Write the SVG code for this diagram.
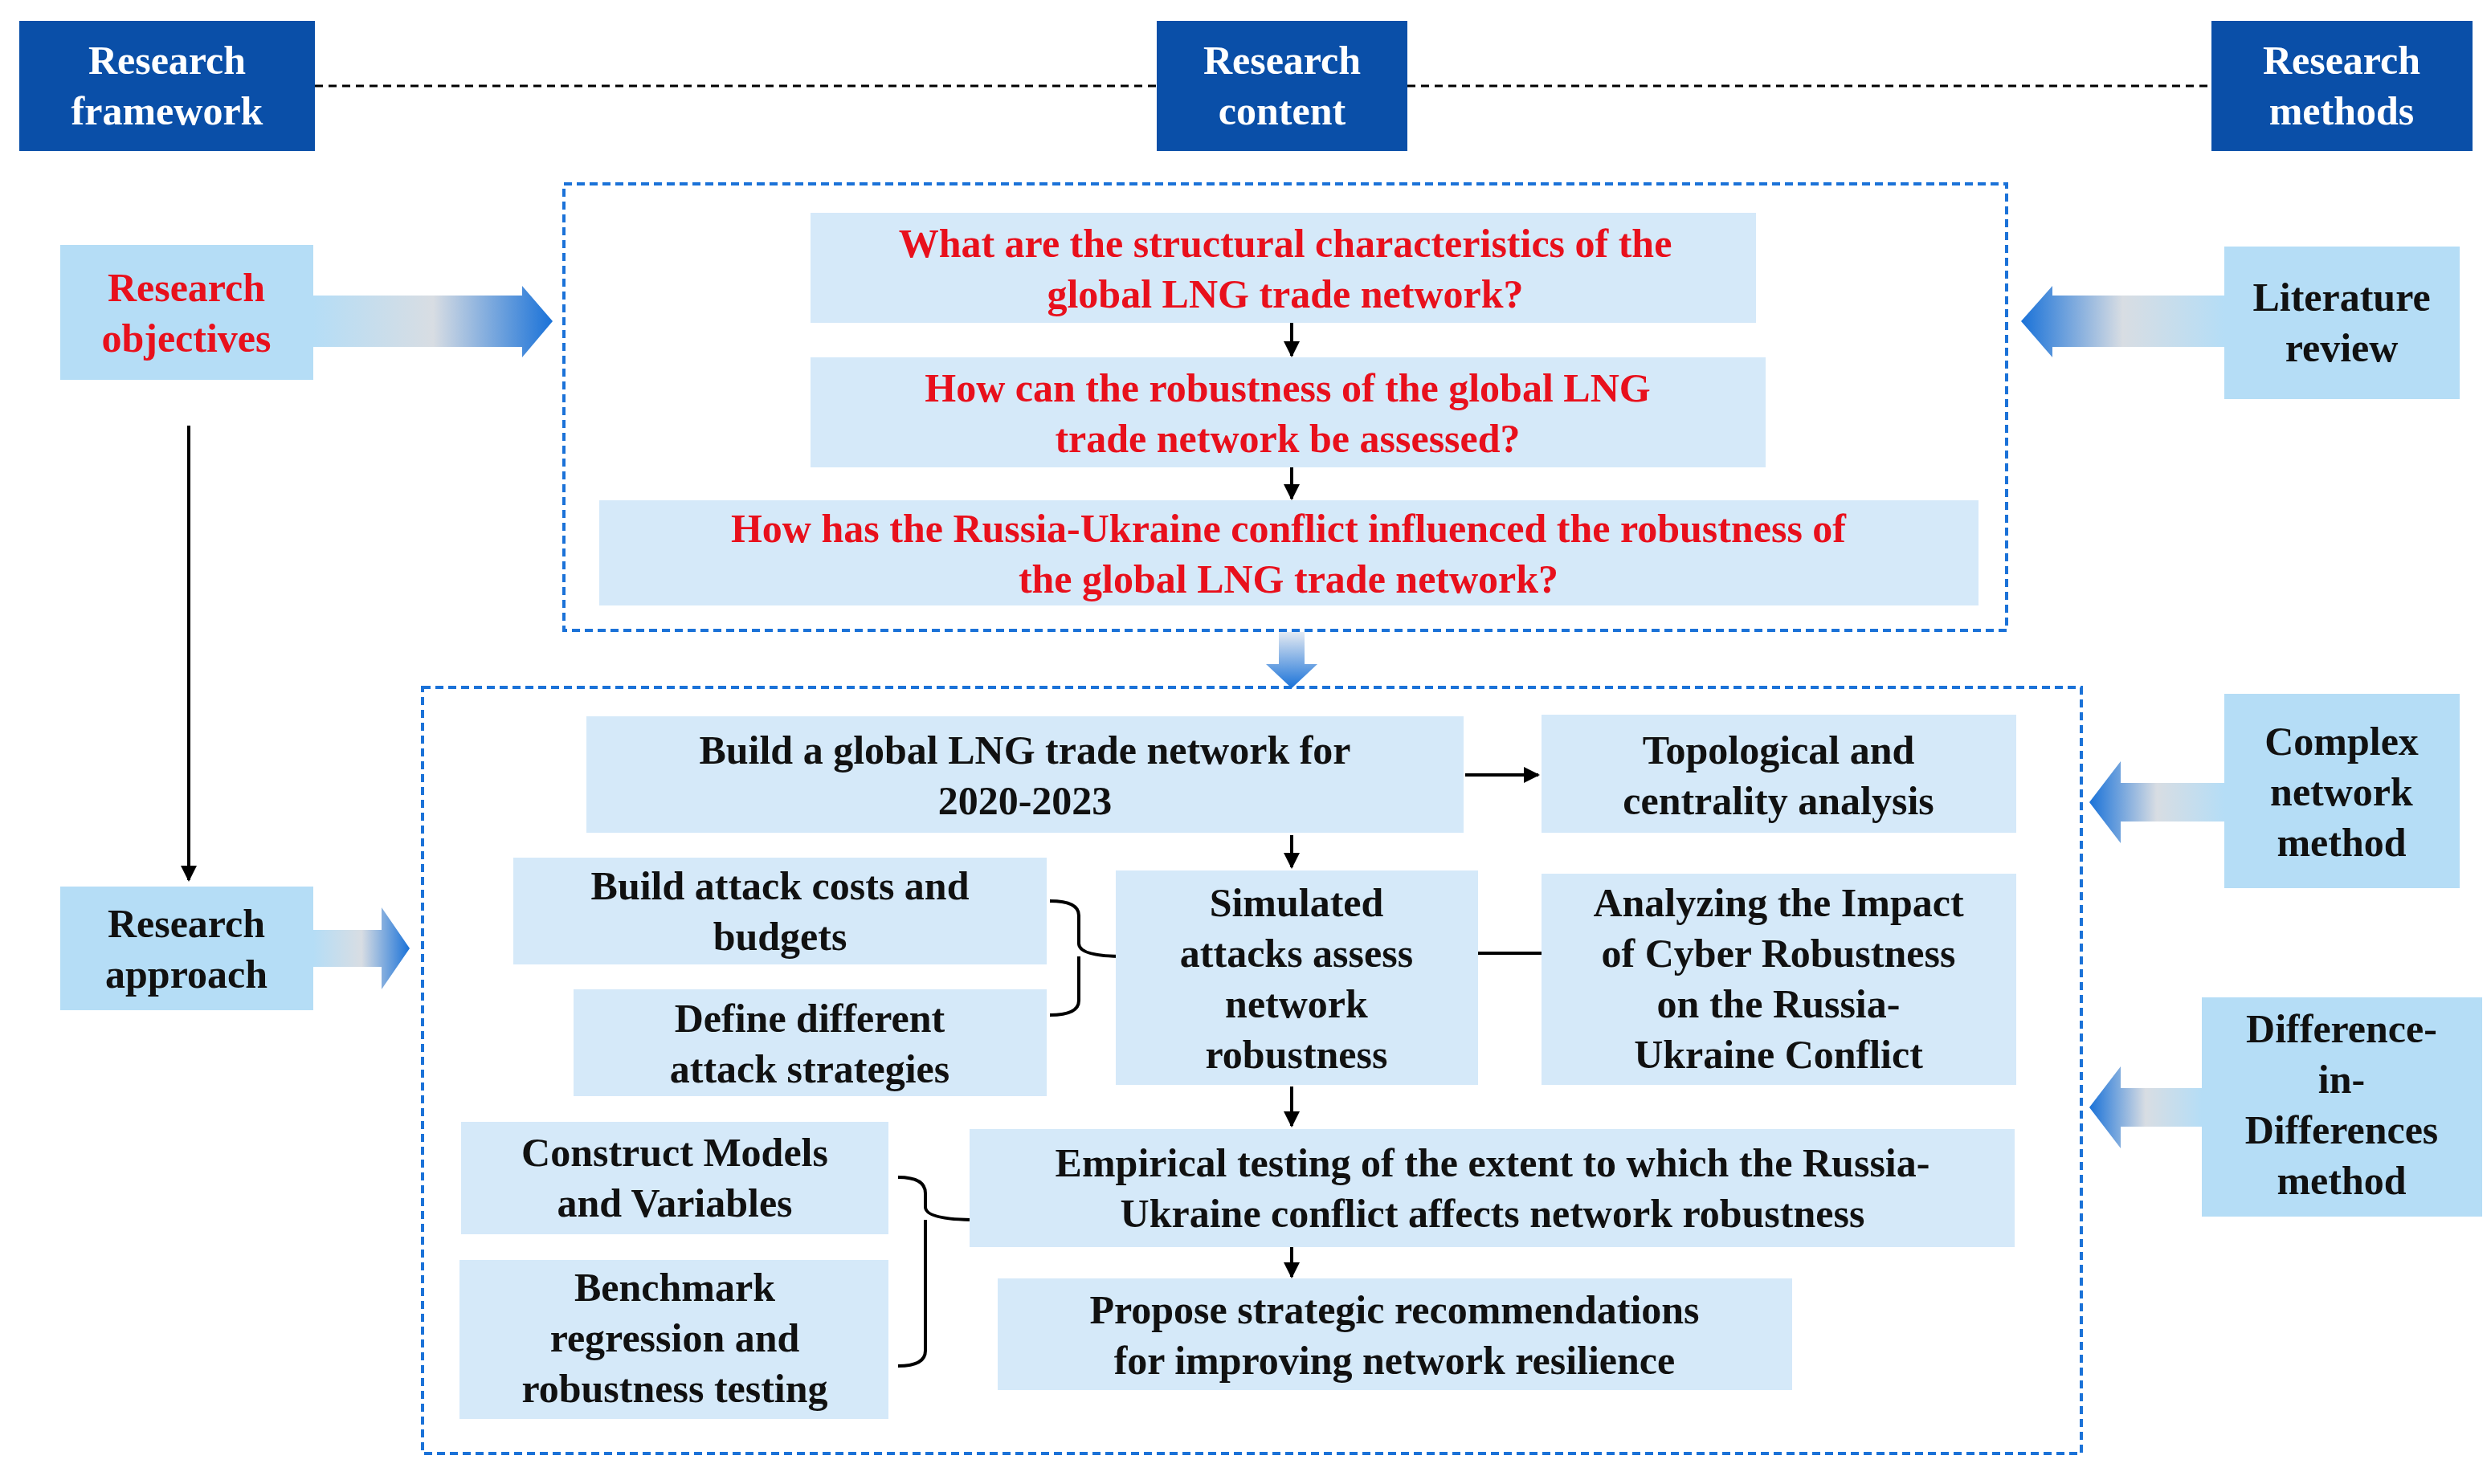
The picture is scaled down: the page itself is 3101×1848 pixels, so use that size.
<svg xmlns="http://www.w3.org/2000/svg" width="3101" height="1848" viewBox="0 0 3101 1848">
<defs>
<style>
.hd{fill:#0a4fa8}
.hdt{fill:#fff;font-family:"Liberation Serif",serif;font-weight:bold;font-size:50px;text-anchor:middle}
.bx{fill:#d5e9f9}
.sd{fill:#b5ddf6}
.t{font-family:"Liberation Serif",serif;font-weight:bold;font-size:50px;text-anchor:middle;fill:#111}
.r{fill:#e8101c}
.dash{fill:none;stroke:#1b72d8;stroke-width:4;stroke-dasharray:10 6}
.ln{stroke:#000;stroke-width:4;fill:none}
</style>
<linearGradient id="gR" x1="0" x2="1" y1="0" y2="0"><stop offset="0" stop-color="#b5ddf6"/><stop offset="0.5" stop-color="#d8dde3"/><stop offset="1" stop-color="#1a72d8"/></linearGradient>
<linearGradient id="gL" x1="1" x2="0" y1="0" y2="0"><stop offset="0" stop-color="#b5ddf6"/><stop offset="0.5" stop-color="#d8dde3"/><stop offset="1" stop-color="#1a72d8"/></linearGradient>
<linearGradient id="gD" x1="0" x2="0" y1="0" y2="1"><stop offset="0" stop-color="#e4eaf2"/><stop offset="1" stop-color="#1a72d8"/></linearGradient>
<marker id="ah" viewBox="0 0 10 10" refX="9" refY="5" markerWidth="5" markerHeight="5" orient="auto"><path d="M0,0 L10,5 L0,10 z" fill="#000"/></marker>
</defs>
<rect width="3101" height="1848" fill="#fff"/>
<g id="connectors">
<line x1="392" y1="107" x2="1440" y2="107" stroke="#000" stroke-width="3" stroke-dasharray="10 7"/>
<line x1="1752" y1="107" x2="2753" y2="107" stroke="#000" stroke-width="3" stroke-dasharray="10 7"/>
<path d="M390,368 H650 V356 L688,400 L650,445 V432 H390 z" fill="url(#gR)"/>
<path d="M2769,368 H2555 V356 L2516,400 L2555,445 V432 H2769 z" fill="url(#gL)"/>
<path d="M1592,787 H1624 V827 H1640 L1608,857 L1576,827 H1592 z" fill="url(#gD)"/>
<path d="M390,1158 H475 V1130 L510,1181 L475,1232 V1204 H390 z" fill="url(#gR)"/>
<path d="M2769,975 H2640 V948 L2601,999 L2640,1050 V1023 H2769 z" fill="url(#gL)"/>
<path d="M2741,1355 H2640 V1328 L2601,1379 L2640,1430 V1403 H2741 z" fill="url(#gL)"/>
<line class="ln" x1="235" y1="530" x2="235" y2="1096" marker-end="url(#ah)"/>
<line class="ln" x1="1608" y1="402" x2="1608" y2="443" marker-end="url(#ah)"/>
<line class="ln" x1="1608" y1="582" x2="1608" y2="621" marker-end="url(#ah)"/>
<line class="ln" x1="1824" y1="965" x2="1915" y2="965" stroke-width="5" marker-end="url(#ah)"/>
<line class="ln" x1="1608" y1="1040" x2="1608" y2="1080" marker-end="url(#ah)"/>
<line class="ln" x1="1840" y1="1187" x2="1948" y2="1187" stroke-width="5" marker-end="url(#ah)"/>
<line class="ln" x1="1608" y1="1353" x2="1608" y2="1402" marker-end="url(#ah)"/>
<line class="ln" x1="1608" y1="1553" x2="1608" y2="1590" marker-end="url(#ah)"/>
<path class="ln" stroke-width="5" d="M1307,1122 Q1343,1122 1343,1140 V1175 Q1343,1191 1400,1191 M1343,1191 Q1343,1191 1343,1207 V1246 Q1343,1264 1307,1264"/>
<path class="ln" stroke-width="5" d="M1118,1466 Q1152,1466 1152,1486 V1503 Q1152,1519 1216,1519 M1152,1519 V1682 Q1152,1701 1118,1701"/>
</g>
<rect class="dash" x="702" y="229" width="1796" height="556"/>
<rect class="dash" x="526" y="856" width="2065" height="954"/>
<g id="h1"><rect class="hd" x="24" y="26" width="368" height="162"/><text class="hdt" x="208" y="92">Research</text><text class="hdt" x="208" y="155">framework</text></g>
<g id="h2"><rect class="hd" x="1440" y="26" width="312" height="162"/><text class="hdt" x="1596" y="92">Research</text><text class="hdt" x="1596" y="155">content</text></g>
<g id="h3"><rect class="hd" x="2753" y="26" width="325" height="162"/><text class="hdt" x="2915" y="92">Research</text><text class="hdt" x="2915" y="155">methods</text></g>
<g id="q1"><rect class="bx" x="1009" y="265" width="1177" height="137"/><text class="t r" x="1600" y="320">What are the structural characteristics of the</text><text class="t r" x="1600" y="383">global LNG trade network?</text></g>
<g id="q2"><rect class="bx" x="1009" y="445" width="1189" height="137"/><text class="t r" x="1603" y="500">How can the robustness of the global LNG</text><text class="t r" x="1603" y="563">trade network be assessed?</text></g>
<g id="q3"><rect class="bx" x="746" y="623" width="1717" height="131"/><text class="t r" x="1604" y="675">How has the Russia-Ukraine conflict influenced the robustness of</text><text class="t r" x="1604" y="738">the global LNG trade network?</text></g>
<g id="obj"><rect class="sd" x="75" y="305" width="315" height="168"/><text class="t r" x="232" y="375">Research</text><text class="t r" x="232" y="438">objectives</text></g>
<g id="lit"><rect class="sd" x="2769" y="307" width="293" height="190"/><text class="t" x="2915" y="387">Literature</text><text class="t" x="2915" y="450">review</text></g>
<g id="appr"><rect class="sd" x="75" y="1104" width="315" height="154"/><text class="t" x="232" y="1167">Research</text><text class="t" x="232" y="1230">approach</text></g>
<g id="cnm"><rect class="sd" x="2769" y="864" width="293" height="242"/><text class="t" x="2915" y="940">Complex</text><text class="t" x="2915" y="1003">network</text><text class="t" x="2915" y="1066">method</text></g>
<g id="did"><rect class="sd" x="2741" y="1242" width="349" height="273"/><text class="t" x="2915" y="1298">Difference-</text><text class="t" x="2915" y="1361">in-</text><text class="t" x="2915" y="1424">Differences</text><text class="t" x="2915" y="1487">method</text></g>
<g id="build"><rect class="bx" x="730" y="892" width="1092" height="145"/><text class="t" x="1276" y="951">Build a global LNG trade network for</text><text class="t" x="1276" y="1014">2020-2023</text></g>
<g id="topo"><rect class="bx" x="1919" y="890" width="591" height="147"/><text class="t" x="2214" y="951">Topological and</text><text class="t" x="2214" y="1014">centrality analysis</text></g>
<g id="cost"><rect class="bx" x="639" y="1068" width="664" height="133"/><text class="t" x="971" y="1120">Build attack costs and</text><text class="t" x="971" y="1183">budgets</text></g>
<g id="strat"><rect class="bx" x="714" y="1232" width="589" height="133"/><text class="t" x="1008" y="1285">Define different</text><text class="t" x="1008" y="1348">attack strategies</text></g>
<g id="sim"><rect class="bx" x="1389" y="1084" width="451" height="267"/><text class="t" x="1614" y="1141">Simulated</text><text class="t" x="1614" y="1204">attacks assess</text><text class="t" x="1614" y="1267">network</text><text class="t" x="1614" y="1330">robustness</text></g>
<g id="ana"><rect class="bx" x="1919" y="1088" width="591" height="263"/><text class="t" x="2214" y="1141">Analyzing the Impact</text><text class="t" x="2214" y="1204">of Cyber Robustness</text><text class="t" x="2214" y="1267">on the Russia-</text><text class="t" x="2214" y="1330">Ukraine Conflict</text></g>
<g id="cons"><rect class="bx" x="574" y="1397" width="532" height="140"/><text class="t" x="840" y="1452">Construct Models</text><text class="t" x="840" y="1515">and Variables</text></g>
<g id="bench"><rect class="bx" x="572" y="1569" width="534" height="198"/><text class="t" x="840" y="1620">Benchmark</text><text class="t" x="840" y="1683">regression and</text><text class="t" x="840" y="1746">robustness testing</text></g>
<g id="emp"><rect class="bx" x="1207" y="1406" width="1301" height="147"/><text class="t" x="1858" y="1465">Empirical testing of the extent to which the Russia-</text><text class="t" x="1858" y="1528">Ukraine conflict affects network robustness</text></g>
<g id="prop"><rect class="bx" x="1242" y="1592" width="989" height="139"/><text class="t" x="1736" y="1648">Propose strategic recommendations</text><text class="t" x="1736" y="1711">for improving network resilience</text></g>
</svg>
